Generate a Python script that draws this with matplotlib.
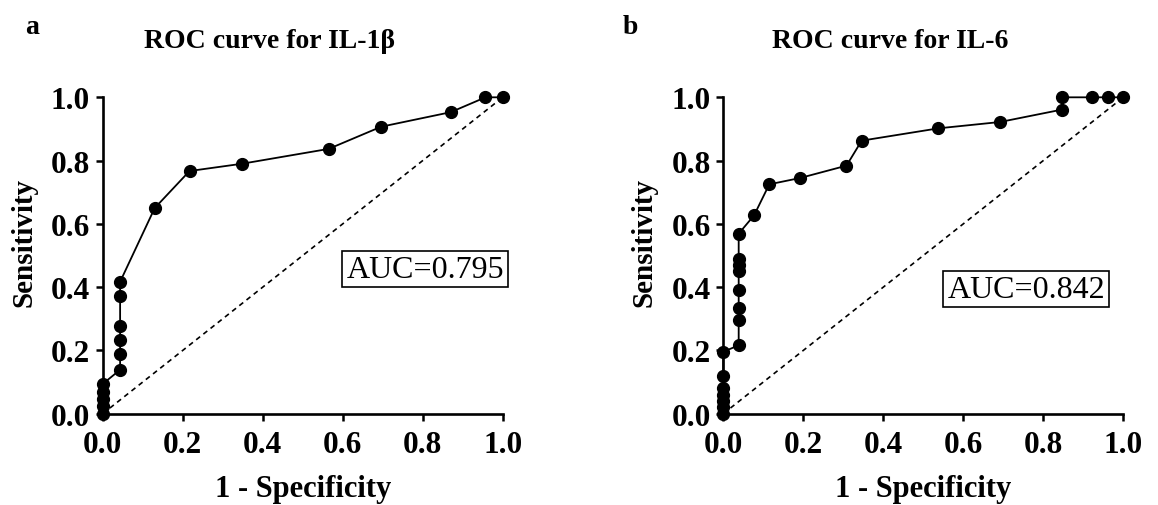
import matplotlib

matplotlib.use("Agg")
import matplotlib.pyplot as plt

plt.rcParams["font.family"] = ["Liberation Serif", "DejaVu Serif"]

# ROC points (1 - specificity, sensitivity)
il1b_fpr = [0, 0, 0, 0, 0, 0.0435, 0.0435, 0.0435, 0.0435, 0.0435, 0.0435,
            0.130, 0.217, 0.348, 0.565, 0.696, 0.870, 0.957, 1.0]
il1b_tpr = [0, 0.023, 0.047, 0.070, 0.094, 0.139, 0.188, 0.233, 0.278, 0.371, 0.417,
            0.650, 0.767, 0.790, 0.837, 0.907, 0.953, 1.0, 1.0]
il1b_auc = "AUC=0.795"

il6_fpr = [0, 0, 0, 0, 0, 0, 0, 0.0385, 0.0385, 0.0385, 0.0385, 0.0385, 0.0385,
           0.0385, 0.0385, 0.077, 0.115, 0.192, 0.308, 0.346, 0.538, 0.692,
           0.846, 0.846, 0.923, 0.962, 1.0]
il6_tpr = [0, 0.020, 0.040, 0.060, 0.080, 0.118, 0.196, 0.216, 0.297, 0.333, 0.392,
           0.451, 0.470, 0.490, 0.569, 0.627, 0.725, 0.745, 0.784, 0.863, 0.902,
           0.922, 0.961, 1.0, 1.0, 1.0, 1.0]
il6_auc = "AUC=0.842"

ticks = [0.0, 0.2, 0.4, 0.6, 0.8, 1.0]
tick_labels = ["0.0", "0.2", "0.4", "0.6", "0.8", "1.0"]

panels = [
    dict(rect=[0.0887, 0.1804, 0.3454, 0.6253], fpr=il1b_fpr, tpr=il1b_tpr,
         auc=il1b_auc, auc_xy=(0.806, 0.457), title="ROC curve for IL-1β",
         letter="a", letter_x=-0.194),
    dict(rect=[0.6246, 0.1804, 0.3454, 0.6253], fpr=il6_fpr, tpr=il6_tpr,
         auc=il6_auc, auc_xy=(0.757, 0.394), title="ROC curve for IL-6",
         letter="b", letter_x=-0.251),
]

fig = plt.figure(figsize=(11.58, 5.06), dpi=100)

for p in panels:
    ax = fig.add_axes(p["rect"])
    ax.plot([0, 1], [0, 1], color="black", lw=1.2, dashes=(3, 2.5), zorder=2)
    ax.plot(p["fpr"], p["tpr"], color="black", lw=1.3, marker="o", ms=8.5,
            clip_on=False, zorder=3)
    ax.set_xlim(0, 1)
    ax.set_ylim(0, 1)
    ax.set_xticks(ticks)
    ax.set_yticks(ticks)
    ax.set_xticklabels(tick_labels, fontsize=22.5, fontweight="bold")
    ax.set_yticklabels(tick_labels, fontsize=22.5, fontweight="bold")
    ax.tick_params(direction="out", length=5, width=1.8)
    ax.tick_params(axis="x", pad=7)
    ax.tick_params(axis="y", pad=4)
    for s in ["top", "right"]:
        ax.spines[s].set_visible(False)
    for s in ["left", "bottom"]:
        ax.spines[s].set_linewidth(1.9)

    ax.set_xlabel("1 - Specificity", fontsize=22, fontweight="bold")
    ax.xaxis.set_label_coords(0.5, -0.19)
    ax.set_ylabel("Sensitivity", fontsize=21, fontweight="bold")
    ax.yaxis.set_label_coords(-0.164, 0.543)

    ax.text(0.418, 1.181, p["title"], transform=ax.transAxes, ha="center",
            va="center", fontsize=20, fontweight="bold")
    ax.text(p["letter_x"], 1.203, p["letter"], transform=ax.transAxes,
            ha="left", va="baseline", fontsize=20, fontweight="bold")

    ax.text(p["auc_xy"][0], p["auc_xy"][1], p["auc"], ha="center", va="center",
            fontsize=23,
            bbox=dict(boxstyle="square,pad=0.12", fc="white", ec="black", lw=1.2))

fig.savefig("out.png", dpi=100)
